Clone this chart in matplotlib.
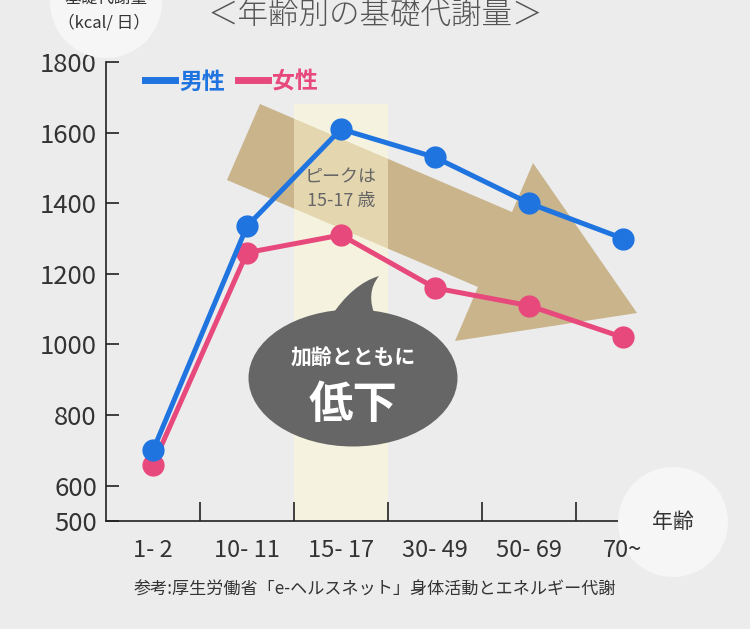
import matplotlib.pyplot as plt
from matplotlib.lines import Line2D
from matplotlib.patches import Ellipse, PathPatch, Polygon
from matplotlib.path import Path

plt.rcParams["font.family"] = ["Noto Sans CJK JP", "DejaVu Sans"]

age_groups = ["1- 2", "10- 11", "15- 17", "30- 49", "50- 69", "70~"]
male = [700, 1335, 1610, 1530, 1400, 1300]
female = [660, 1260, 1310, 1160, 1110, 1020]
y_ticks = [500, 600, 800, 1000, 1200, 1400, 1600, 1800]
series_labels = ["男性", "女性"]

W, H = 750, 629
BG = "#ececec"
BLUE = "#1f74e0"
PINK = "#e8497c"
TXT = "#333333"


def fp(x, y):
    # pixel position (from top-left) -> figure fraction
    return (x / W, 1 - y / H)


fig = plt.figure(figsize=(W / 100, H / 100), dpi=100, facecolor=BG)
ax = fig.add_axes([106 / W, 108 / H, 564 / W, 459 / H])
ax.set_facecolor("none")

x = list(range(len(age_groups)))
ax.plot(x, female, color=PINK, lw=3.6, marker="o", ms=16, mew=0, zorder=4)
ax.plot(x, male, color=BLUE, lw=3.6, marker="o", ms=16, mew=0, zorder=4.1)

ax.set_xlim(-0.5, len(age_groups) - 0.5)
ax.set_ylim(500, 1800)

# highlight the peak age group
peak = male.index(max(male))
ax.axvspan(peak - 0.5, peak + 0.5, 0, (1680 - 500) / 1300, color="#fffad4", alpha=0.5, lw=0, zorder=1.5)

# big downward arrow
arrow_px = [(260, 104), (512, 212), (533, 163), (637, 313), (455, 341), (478, 287), (227, 180)]
ax.add_patch(Polygon([fp(*p) for p in arrow_px], closed=True, transform=fig.transFigure,
                     facecolor="#c9b48c", edgecolor="none", zorder=1, clip_on=False))

for s in ["top", "right"]:
    ax.spines[s].set_visible(False)
for s in ["left", "bottom"]:
    ax.spines[s].set_color("#222222")
    ax.spines[s].set_linewidth(1.2)

ax.set_yticks(y_ticks)
ax.tick_params(axis="y", direction="in", length=9, width=1.2, color="#222222",
               labelsize=18.5, labelcolor=TXT, pad=6.5)
ax.set_xticks(x)
ax.set_xticklabels(age_groups)
ax.set_xticks([i + 0.5 for i in x[:-1]], minor=True)
ax.tick_params(axis="x", which="major", length=0, labelsize=17, labelcolor=TXT, pad=13)
ax.tick_params(axis="x", which="minor", direction="in", length=14, width=1.2, color="#222222")
ax.xaxis.set_zorder(3.2)

# legend
handles = [Line2D([], [], color=BLUE, lw=5), Line2D([], [], color=PINK, lw=5)]
ax.legend(handles, series_labels, loc="center left", bbox_to_anchor=fp(145, 82),
          bbox_transform=fig.transFigure, frameon=False, ncol=2, handlelength=1.3,
          handletextpad=0.2, columnspacing=0.55, borderpad=0, borderaxespad=0,
          prop={"size": 16.5, "weight": "bold"}, labelcolor=[BLUE, PINK])

# speech bubble
ax.add_patch(Ellipse(fp(353, 378), 209 / W, 137 / H, transform=fig.transFigure,
                     facecolor="#666666", edgecolor="none", zorder=5, clip_on=False))
tail = Path([fp(330, 318), fp(352, 284), fp(379, 276), fp(365, 293), fp(376, 318), fp(330, 318)],
            [Path.MOVETO, Path.CURVE3, Path.CURVE3, Path.CURVE3, Path.CURVE3, Path.CLOSEPOLY])
ax.add_patch(PathPatch(tail, transform=fig.transFigure, facecolor="#666666",
                       edgecolor="none", zorder=5, clip_on=False))
fig.text(*fp(353, 358), "加齢とともに", ha="center", va="center", color="white",
         fontsize=15, fontweight="bold", zorder=6)
fig.text(*fp(353, 405), "低下", ha="center", va="center", color="white",
         fontsize=32, fontweight="bold", zorder=6)

# peak note
fig.text(*fp(341, 178), "ピークは", ha="center", va="center", color="#666666", fontsize=13)
fig.text(*fp(341, 201), "15-17 歳", ha="center", va="center", color="#666666", fontsize=13)

# axis caption circles
ax.add_patch(Ellipse(fp(106, 2), 112 / W, 112 / H, transform=fig.transFigure,
                     facecolor="#f6f6f6", edgecolor="none", zorder=3, clip_on=False))
fig.text(*fp(106, -2), "基礎代謝量", ha="center", va="center", color=TXT, fontsize=12)
fig.text(*fp(104, 23), "（kcal/ 日）", ha="center", va="center", color=TXT, fontsize=12)

ax.add_patch(Ellipse(fp(673, 522), 110 / W, 110 / H, transform=fig.transFigure,
                     facecolor="#f6f6f6", edgecolor="none", zorder=3.1, clip_on=False))
fig.text(*fp(673, 522), "年齢", ha="center", va="center", color=TXT, fontsize=15)

# title and source
fig.text(*fp(375, 15), "＜年齢別の基礎代謝量＞", ha="center", va="center", color="#555555",
         fontsize=22, fontweight="light")
fig.text(*fp(375, 590), "参考:厚生労働省「e-ヘルスネット」身体活動とエネルギー代謝",
         ha="center", va="center", color=TXT, fontsize=12.3)

fig.savefig("out.png", dpi=100, facecolor=BG)
plt.close(fig)
